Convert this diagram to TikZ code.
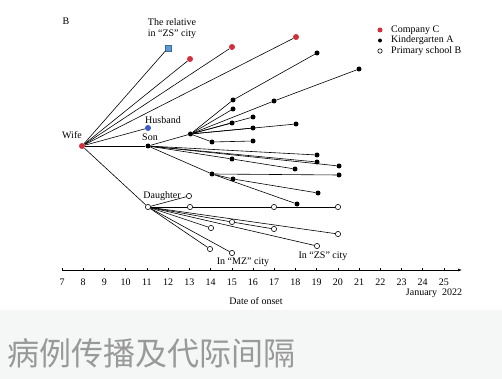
\documentclass[tikz,border=0pt]{standalone}
\usepackage{fontspec}
\setmainfont{Liberation Serif}
\newfontfamily\cjk{Noto Sans CJK SC}
\usetikzlibrary{arrows.meta}
\definecolor{cred}{HTML}{D0303C}
\definecolor{cblue}{HTML}{3A5DC4}
\definecolor{sqblue}{HTML}{5B9BD5}
\definecolor{band}{HTML}{F5F7F7}
\definecolor{cjkgray}{HTML}{999999}
\begin{document}
\begin{tikzpicture}[x=1pt,y=-1pt,
  edge/.style={line width=0.6pt, draw=black},
  kg/.style={circle, fill=black, inner sep=0pt, minimum size=5pt},
  co/.style={circle, fill=cred, inner sep=0pt, minimum size=6pt},
  hb/.style={circle, fill=cblue, inner sep=0pt, minimum size=6pt},
  ps/.style={circle, draw=black, fill=white, line width=0.6pt, inner sep=0pt, minimum size=5.2pt},
  sq/.style={rectangle, fill=sqblue, draw=sqblue!70!black, line width=0.3pt, inner sep=0pt, minimum size=5.5pt},
  lab/.style={font=\fontsize{10}{12}\selectfont, inner sep=0pt},
  tick/.style={line width=0.5pt}]
\useasboundingbox (0,0) rectangle (502,379);
\fill[band] (0,310) rectangle (502,379);

% nodes
\node[co] (wife) at (82,146) {};
\node[sq] (rel) at (168,48) {};
\node[co] (c1) at (190,59) {};
\node[co] (c2) at (232,47) {};
\node[co] (c3) at (296,37) {};
\node[hb] (hus) at (148,128) {};
\node[kg] (son) at (148,146) {};
\node[ps] (dau) at (148,207) {};

\node[kg] (k1) at (233,100) {};
\node[kg] (k1b) at (317,53) {};
\node[kg] (A) at (190.5,134) {};
\node[kg] (k2) at (274,101) {};
\node[kg] (k2b) at (359,69) {};
\node[kg] (k3) at (233,109) {};
\node[kg] (k4) at (253,117) {};
\node[kg] (k5) at (232,123) {};
\node[kg] (k6) at (253,128) {};
\node[kg] (k7) at (296,124) {};
\node[kg] (B) at (212,142) {};
\node[kg] (k8) at (253,141) {};
\node[kg] (k9) at (317,155) {};
\node[kg] (k10) at (317,162) {};
\node[kg] (k11) at (339,166) {};
\node[kg] (k12) at (232,159) {};
\node[kg] (k12b) at (295,169) {};
\node[kg] (C) at (212,174) {};
\node[kg] (k13) at (339,175) {};
\node[kg] (D) at (233,179) {};
\node[kg] (k14) at (318,193) {};
\node[kg] (k15) at (297,204) {};

\node[ps] (p1) at (189,196) {};
\node[ps] (p2) at (190,207) {};
\node[ps] (p3) at (274,207) {};
\node[ps] (p4) at (338,207) {};
\node[ps] (p5) at (232,222) {};
\node[ps] (p6) at (211,228) {};
\node[ps] (p7) at (274,229) {};
\node[ps] (p8) at (338,234) {};
\node[ps] (p9) at (317,246) {};
\node[ps] (p10) at (210,249) {};
\node[ps] (p11) at (232,253) {};

% edges
\foreach \t in {rel,c1,c2,c3,hus,son,dau} \draw[edge] (wife) -- (\t);
\foreach \t in {A,k9,k10,k11,k12,C} \draw[edge] (son) -- (\t);
\foreach \t in {k1,k2,k3,k4,k5,k6,k7,B} \draw[edge] (A) -- (\t);
\draw[edge] (k1) -- (k1b);
\draw[edge] (k2) -- (k2b);
\draw[edge] (B) -- (k8);
\draw[edge] (k12) -- (k12b);
\draw[edge] (C) -- (k13);
\draw[edge] (C) -- (D);
\draw[edge] (C) -- (k15);
\draw[edge] (D) -- (k14);
\foreach \t in {p1,p2,p5,p6,p8,p9,p10,p11} \draw[edge] (dau) -- (\t);
\draw[edge] (p2) -- (p3);
\draw[edge] (p3) -- (p4);
\draw[edge] (p5) -- (p7);

% labels
\node[lab] (lB) at (66,21) {B};
\node[lab] (lrel1) at (172,22.5) {The relative};
\node[lab] (lrel2) at (172,34) {in “ZS” city};
\node[lab] (lwife) at (72,135) {Wife};
\node[lab] (lhus) at (163,120) {Husband};
\node[lab] (lson) at (150,137.5) {Son};
\node[lab] (ldau) at (162,196) {Daughter};
\node[lab] (lmz) at (243,262) {In “MZ” city};
\node[lab] (lzs) at (323,256) {In “ZS” city};

% legend
\node[co, minimum size=5pt] (lg1) at (380,30) {};
\node[kg, minimum size=4pt] (lg2) at (380,40.5) {};
\node[ps, minimum size=4.4pt] (lg3) at (380,51) {};
\node[lab, anchor=west] (lt1) at (391,30) {Company C};
\node[lab, anchor=west] (lt2) at (391,40.5) {Kindergarten A};
\node[lab, anchor=west] (lt3) at (391,51) {Primary school B};

% axis
\coordinate (axl) at (62,270);
\coordinate (axr) at (462,270);
\draw[line width=0.6pt, -{Latex[length=4pt,width=3pt]}] (axl) -- (axr);
\foreach \d in {7,...,25} {
  \draw[tick] ({62+21.22*(\d-7)},270) -- ({62+21.22*(\d-7)},267.5);
  \node[lab] at ({62+21.22*(\d-7)},282) {\d};
}
\node[lab] (ljan) at (434,293.5) {January\ \ 2022};
\node[lab] (ldate) at (256,301) {Date of onset};

% caption band text
\node[anchor=west, inner sep=0pt, text=cjkgray, font=\cjk\fontsize{32}{32}\selectfont] (cap) at (7,353) {病例传播及代际间隔};
\end{tikzpicture}
\end{document}
